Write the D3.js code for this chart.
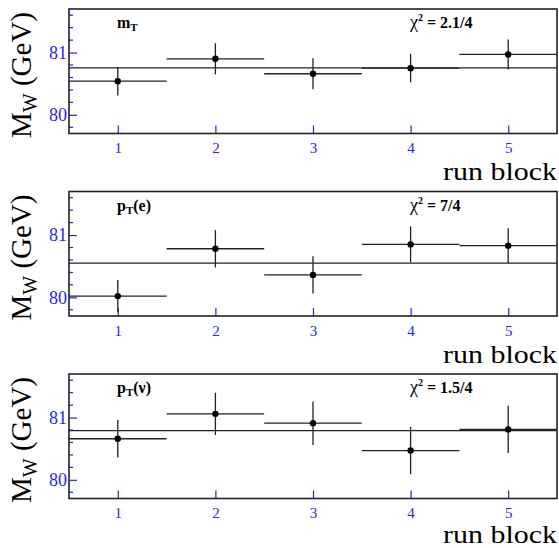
<!DOCTYPE html>
<html>
<head>
<meta charset="utf-8" />
<title>M_W by run block</title>
<style>
body { margin: 0; background: #fff; }
</style>
</head>
<body>
<div id="graph"></div>
<script src="https://cdnjs.cloudflare.com/ajax/libs/d3/7.8.5/d3.min.js"></script>
<script>
// run blocks on the x axis
var blocks = [1, 2, 3, 4, 5]

// fitted M_W per run block (GeV) and their errors
var mtValues  = [80.54, 80.90, 80.66, 80.75, 80.97]
var mtErrors  = [0.23, 0.25, 0.25, 0.23, 0.24]
var mtFit = 80.753

var peValues  = [80.02, 80.78, 80.36, 80.85, 80.83]
var peErrors  = [0.26, 0.30, 0.30, 0.29, 0.28]
var peFit = 80.55

var pnValues  = [80.66, 81.06, 80.91, 80.47, 80.81]
var pnErrors  = [0.30, 0.34, 0.35, 0.38, 0.38]
var pnFit = 80.79

var panelNames = ["m", "p", "p"]
var panelSubs = ["T", "T", "T"]
var panelTails = ["", "(e)", "(\u03bd)"]
var chi2Labels = ["2.1/4", "7/4", "1.5/4"]

var yTicks = [80, 81]
var yDomain = [79.7, 81.7]
var xDomain = [0.5, 5.5]

!(function(){
    "use strict"

    var serif = "'Liberation Serif', 'DejaVu Serif', Tinos, Times, serif"
    var width = 559, height = 548
    var svg = d3.select("#graph").append("svg")
        .attr("width", width).attr("height", height)
        .attr("font-family", serif)

    var panels = [
        {values: mtValues, errors: mtErrors, fit: mtFit},
        {values: peValues, errors: peErrors, fit: peFit},
        {values: pnValues, errors: pnErrors, fit: pnFit}
    ]
    var tops = [9, 191.5, 374]
    var frameH = 124.5
    var left = 69, right = 557

    var x = d3.scaleLinear().domain(xDomain).range([left, right])
    var blue = "#1f1fff"

    panels.forEach(function(p, i) {
        var top = tops[i]
        var y = d3.scaleLinear().domain(yDomain).range([top + frameH, top])
        var g = svg.append("g")

        // minor y ticks
        var minor = d3.range(79.8, 81.7, 0.2).filter(function(v) {
            return Math.abs(v - Math.round(v)) > 0.01
        })
        g.selectAll(".ymin").data(minor).enter().append("line")
            .attr("x1", left).attr("x2", left + 4)
            .attr("y1", function(d){ return y(d) }).attr("y2", function(d){ return y(d) })
            .attr("stroke", blue).attr("stroke-width", 1.2)

        // y axis (ticks drawn inward)
        var yAxis = d3.axisLeft(y).tickValues(yTicks).tickSize(-8).tickPadding(2)
            .tickFormat(d3.format("d"))
        var ya = g.append("g").attr("transform", "translate(" + left + ",0)").call(yAxis)
            .attr("font-family", serif).attr("font-size", 18)
        ya.select(".domain").remove()
        ya.selectAll(".tick line").attr("stroke", blue).attr("stroke-width", 1.2)
        ya.selectAll(".tick text").attr("fill", blue)

        // x axis (ticks inward, from bottom)
        var xAxis = d3.axisBottom(x).tickValues(blocks).tickSize(-8).tickPadding(9)
            .tickFormat(d3.format("d"))
        var xa = g.append("g").attr("transform", "translate(0," + (top + frameH) + ")").call(xAxis)
            .attr("font-family", serif).attr("font-size", 15)
        xa.select(".domain").remove()
        xa.selectAll(".tick line").attr("stroke", blue).attr("stroke-width", 1.2)
        xa.selectAll(".tick text").attr("fill", blue)

        // fit line
        g.append("line")
            .attr("x1", left).attr("x2", right)
            .attr("y1", y(p.fit)).attr("y2", y(p.fit))
            .attr("stroke", "#222").attr("stroke-width", 1.3)

        // horizontal bin bars
        g.selectAll(".hbar").data(blocks).enter().append("line")
            .attr("x1", function(d){ return x(d - 0.5) })
            .attr("x2", function(d){ return x(d + 0.5) })
            .attr("y1", function(d, j){ return y(p.values[j]) })
            .attr("y2", function(d, j){ return y(p.values[j]) })
            .attr("stroke", "#222").attr("stroke-width", 1.3)

        // vertical error bars
        g.selectAll(".vbar").data(blocks).enter().append("line")
            .attr("x1", function(d){ return x(d) })
            .attr("x2", function(d){ return x(d) })
            .attr("y1", function(d, j){ return y(p.values[j] - p.errors[j]) })
            .attr("y2", function(d, j){ return y(p.values[j] + p.errors[j]) })
            .attr("stroke", "#222").attr("stroke-width", 1.3)

        // markers
        g.selectAll("circle").data(blocks).enter().append("circle")
            .attr("cx", function(d){ return x(d) })
            .attr("cy", function(d, j){ return y(p.values[j]) })
            .attr("r", 3.2).attr("fill", "#000")

        // frame
        g.append("rect")
            .attr("x", left).attr("y", top)
            .attr("width", right - left).attr("height", frameH)
            .attr("fill", "none").attr("stroke", "#222").attr("stroke-width", 1.6)

        // panel label
        var lab = g.append("text")
            .attr("x", 117).attr("y", top + 19)
            .attr("font-size", 16).attr("font-weight", "bold")
        lab.append("tspan").text(panelNames[i])
        lab.append("tspan").attr("dy", 3).attr("font-size", 11).text(panelSubs[i])
        lab.append("tspan").attr("dy", -3).text(panelTails[i])

        // chi2 label
        var chi = g.append("text")
            .attr("x", 410).attr("y", top + 19)
            .attr("font-size", 16).attr("font-weight", "bold")
        chi.append("tspan").attr("font-weight", "normal").attr("font-size", 18).text("\u03c7")
        chi.append("tspan").attr("dy", -7).attr("font-size", 10).text("2")
        chi.append("tspan").attr("dy", 7).text(" = " + chi2Labels[i])

        // x title
        g.append("text")
            .attr("x", right).attr("y", Math.min(top + frameH + 46.5, 543))
            .attr("text-anchor", "end")
            .attr("font-size", 25)
            .attr("textLength", 114).attr("lengthAdjust", "spacingAndGlyphs")
            .text("run block")

        // y title
        var yt = g.append("text")
            .attr("transform", "translate(31," + (top + 3) + ") rotate(-90)")
            .attr("text-anchor", "end")
            .attr("font-size", 29)
        yt.append("tspan").text("M")
        yt.append("tspan").attr("dy", 6).attr("font-size", 20).text("W")
        yt.append("tspan").attr("dy", -6).text(" (GeV)")
    })
}());
</script>
</body>
</html>
